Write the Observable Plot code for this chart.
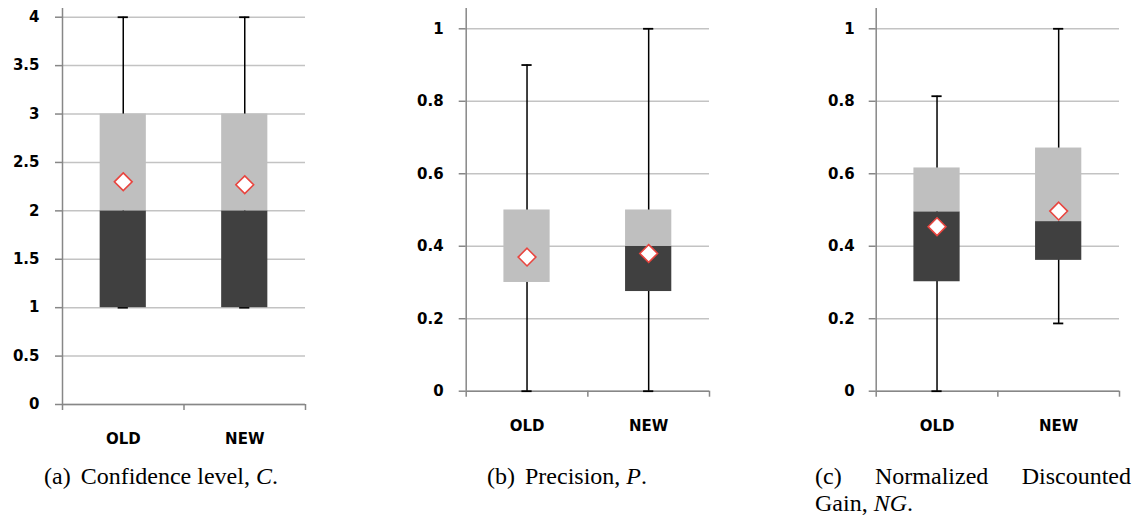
<!DOCTYPE html>
<html>
<head>
<meta charset="utf-8">
<script src="https://cdn.jsdelivr.net/npm/d3@7"></script>
<script src="https://cdn.jsdelivr.net/npm/@observablehq/plot@0.6"></script>
<style>
  html, body { margin: 0; padding: 0; background: #fff; }
  #root { position: relative; width: 1142px; height: 519px; overflow: hidden; }
  .panel { position: absolute; top: 0; }
  .cap { position: absolute; font-family: 'Liberation Serif', 'Times New Roman', Times, 'DejaVu Serif', serif; font-size: 24px; line-height: 27px; color: #000; white-space: nowrap; }
  .cap.just { text-align: justify; text-align-last: justify; }
</style>
</head>
<body>
<div id="root"></div>
<script>
// ---- data ----
const categories = ["OLD", "NEW"];

// (a) Confidence level, C
const confMin  = [1, 1];
const confQ1   = [1, 1];
const confMed  = [2, 2];
const confQ3   = [3, 3];
const confMax  = [4, 4];
const confMean = [2.3, 2.27];
const confTicks = [0, 0.5, 1, 1.5, 2, 2.5, 3, 3.5, 4];

// (b) Precision, P
const precMin  = [0, 0];
const precQ1   = [0.3, 0.275];
const precMed  = [0.3, 0.4];
const precQ3   = [0.5, 0.5];
const precMax  = [0.9, 1.0];
const precMean = [0.37, 0.38];

// (c) Normalized Discounted Gain, NG
const ngMin  = [0, 0.187];
const ngQ1   = [0.302, 0.361];
const ngMed  = [0.495, 0.468];
const ngQ3   = [0.616, 0.671];
const ngMax  = [0.814, 1.0];
const ngMean = [0.454, 0.497];

const unitTicks = [0, 0.2, 0.4, 0.6, 0.8, 1];

function rowsOf(mn, q1, md, q3, mx, mean) {
  return categories.map((c, i) => ({cat: c, pos: i + 0.5, min: mn[i], q1: q1[i], med: md[i], q3: q3[i], max: mx[i], mean: mean[i]}));
}

const GRID = "#c3c3c3", AXIS = "#878787";
const HALF = 0.19, CAP = 0.042;
const FONT = "DejaVu Sans";

function boxChart({rows, ticks, yMax, width, height, marginLeft, marginRight, marginBottom, labelDx}) {
  return Plot.plot({
    width, height,
    marginLeft, marginRight, marginTop: 8, marginBottom,
    style: {fontFamily: FONT, fontWeight: "bold", fontSize: "15px", color: "#000", background: "transparent", overflow: "visible"},
    x: {type: "linear", domain: [0, categories.length], label: null, axis: null},
    y: {type: "linear", domain: [0, yMax], label: null, axis: null},
    marks: [
      Plot.ruleY(ticks, {stroke: GRID, strokeWidth: 1.5}),
      Plot.axisY(ticks, {tickSize: 7, stroke: AXIS, strokeWidth: 1.5, tickFormat: () => ""}),
      Plot.text(ticks, {x: () => 0, y: d => d, text: d => String(d), dx: labelDx, textAnchor: "end", fontSize: 15, fontWeight: "bold", fontFamily: FONT, fill: "#000"}),
      Plot.axisX(d3.range(categories.length + 1), {tickSize: 6, stroke: AXIS, strokeWidth: 1.5, tickFormat: () => ""}),
      Plot.ruleY([0], {stroke: AXIS, strokeWidth: 1.5}),
      Plot.ruleX([0], {stroke: AXIS, strokeWidth: 1.5}),
      Plot.text(rows, {x: "pos", y: () => 0, text: "cat", dy: 35, fontSize: 15, fontWeight: "bold", fontFamily: FONT, fill: "#000"}),
      Plot.ruleX(rows, {x: "pos", y1: "min", y2: "max", stroke: "#000", strokeWidth: 1.5}),
      Plot.ruleY(rows, {y: "max", x1: d => d.pos - CAP, x2: d => d.pos + CAP, stroke: "#000", strokeWidth: 1.8}),
      Plot.ruleY(rows, {y: "min", x1: d => d.pos - CAP, x2: d => d.pos + CAP, stroke: "#000", strokeWidth: 1.8}),
      Plot.rect(rows, {x1: d => d.pos - HALF, x2: d => d.pos + HALF, y1: "q1", y2: "med", fill: "#404040"}),
      Plot.rect(rows, {x1: d => d.pos - HALF, x2: d => d.pos + HALF, y1: "med", y2: "q3", fill: "#bfbfbf"}),
      Plot.dot(rows, {x: "pos", y: "mean", symbol: "diamond2", r: 8, fill: "#fff", stroke: "#e8453f", strokeWidth: 1.6})
    ]
  });
}

const root = document.getElementById("root");
function place(svg, left) {
  const d = document.createElement("div");
  d.className = "panel";
  d.style.left = left + "px";
  d.appendChild(svg);
  root.appendChild(d);
}

place(boxChart({rows: rowsOf(confMin, confQ1, confMed, confQ3, confMax, confMean), ticks: confTicks, yMax: 4.09,
  width: 320, height: 460, marginLeft: 62, marginRight: 15, marginBottom: 56, labelDx: -23}), 0);
place(boxChart({rows: rowsOf(precMin, precQ1, precMed, precQ3, precMax, precMean), ticks: unitTicks, yMax: 1.056,
  width: 340, height: 460, marginLeft: 85.7, marginRight: 11, marginBottom: 69.3, labelDx: -22.5}), 380);
place(boxChart({rows: rowsOf(ngMin, ngQ1, ngMed, ngQ3, ngMax, ngMean), ticks: unitTicks, yMax: 1.056,
  width: 340, height: 460, marginLeft: 85.7, marginRight: 11, marginBottom: 69.3, labelDx: -21.5}), 790);

function caption(html, left, top, cls, width) {
  const d = document.createElement("div");
  d.className = "cap" + (cls ? " " + cls : "");
  d.style.left = left + "px";
  d.style.top = top + "px";
  if (width) d.style.width = width + "px";
  d.innerHTML = html;
  root.appendChild(d);
}
caption('<span style="margin-right:4px">(a)</span> Confidence level, <i>C</i>.', 44, 463);
caption('<span style="margin-right:4px">(b)</span> Precision, <i>P</i>.', 487, 463);
caption('(c) Normalized Discounted', 815, 463, "just", 316);
caption('Gain, <i>NG</i>.', 815, 490);
</script>
</body>
</html>
